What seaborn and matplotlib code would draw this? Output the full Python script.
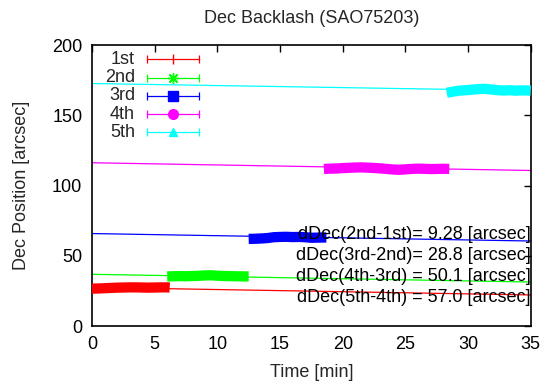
import numpy as np
import pandas as pd
import matplotlib
matplotlib.use("Agg")
import matplotlib.pyplot as plt
import seaborn as sns

# ---------------- data ----------------
series_names = ["1st", "2nd", "3rd", "4th", "5th"]
series_colors = ["#ff0000", "#00ff00", "#0000ff", "#ff00ff", "#00ffff"]

t_1st = [0.0, 0.5, 1.0, 1.5, 2.0, 2.5, 3.0, 3.5, 4.0, 4.5, 5.0, 5.5, 6.0, 6.2]
dec_1st = [26.6, 26.7, 26.9, 27.1, 27.3, 27.4, 27.5, 27.5, 27.4, 27.3, 27.4, 27.5, 27.5, 27.4]

t_2nd = [6.0, 6.5, 7.0, 7.5, 8.0, 8.5, 9.0, 9.5, 10.0, 10.5, 11.0, 11.5, 12.0, 12.5]
dec_2nd = [35.3, 35.4, 35.5, 35.4, 35.6, 35.7, 36.0, 36.1, 35.8, 35.6, 35.5, 35.4, 35.3, 35.3]

t_3rd = [12.5, 13.0, 13.5, 14.0, 14.5, 15.0, 15.5, 16.0, 16.5, 17.0, 17.5, 18.0, 18.5, 18.7]
dec_3rd = [62.0, 62.1, 62.3, 62.6, 63.2, 63.4, 63.5, 63.3, 63.4, 63.2, 62.8, 62.9, 63.0, 63.0]

t_4th = [18.5, 19.0, 19.5, 20.0, 20.5, 21.0, 21.5, 22.0, 22.5, 23.0, 23.5, 24.0, 24.5,
         25.0, 25.5, 26.0, 26.5, 27.0, 27.5, 28.0, 28.5]
dec_4th = [111.8, 112.0, 112.1, 112.4, 112.6, 112.8, 112.9, 112.7, 112.5, 112.2, 111.8,
           111.4, 111.2, 111.5, 111.8, 112.0, 111.9, 111.7, 111.8, 111.9, 111.8]

t_5th = [28.3, 28.8, 29.3, 29.8, 30.3, 30.8, 31.3, 31.8, 32.3, 32.8, 33.3, 33.8, 34.3, 34.8, 35.0]
dec_5th = [166.0, 166.8, 167.5, 167.8, 168.2, 168.6, 168.8, 168.4, 167.9, 167.6, 167.8,
           167.5, 167.7, 167.6, 167.5]

# linear fits (value at t=0 and t=35)
fit_t = [0.0, 35.0]
fit_start = [27.5, 36.8, 65.8, 116.2, 172.6]
fit_end = [22.1, 31.3, 60.5, 110.7, 167.5]

annotations = ["dDec(2nd-1st)= 9.28 [arcsec]",
               "dDec(3rd-2nd)= 28.8 [arcsec]",
               "dDec(4th-3rd) = 50.1 [arcsec]",
               "dDec(5th-4th) = 57.0 [arcsec]"]
annotation_y = [65, 50, 35, 20]

x_ticks = [0, 5, 10, 15, 20, 25, 30, 35]
y_ticks = [0, 50, 100, 150, 200]

# ---------------- style ----------------
sns.set_theme(style="white")
plt.rcParams["font.family"] = ["Liberation Sans", "DejaVu Sans"]
FS = 13

fig = plt.figure(figsize=(5.46, 3.87), dpi=100)
ax = fig.add_axes([0.1685, 0.1576, 0.8035, 0.7261])

times = [t_1st, t_2nd, t_3rd, t_4th, t_5th]
decs = [dec_1st, dec_2nd, dec_3rd, dec_4th, dec_5th]

# fit lines
for i in range(5):
    df = pd.DataFrame({"t": fit_t, "d": [fit_start[i], fit_end[i]]})
    sns.lineplot(data=df, x="t", y="d", ax=ax, color=series_colors[i], lw=0.9,
                 sort=False, estimator=None, legend=False, zorder=2)

# data bands
for i in range(5):
    df = pd.DataFrame({"t": times[i], "d": decs[i]})
    sns.lineplot(data=df, x="t", y="d", ax=ax, color=series_colors[i], lw=7.4,
                 sort=False, estimator=None, legend=False, zorder=3,
                 solid_capstyle="butt")

# annotations
for txt, yy in zip(annotations, annotation_y):
    ax.text(35, yy, txt, ha="right", va="center", fontsize=FS, color="black", zorder=5)

# manual gnuplot-like legend
markers = ["|", (8, 2, 0), "s", "o", "^"]
msizes = [7, 8, 7, 7, 6]
leg_y = [0.949, 0.884, 0.819, 0.754, 0.690]
x0, x1, xm = 0.1246, 0.2438, 0.184
for i in range(5):
    c = series_colors[i]
    ax.text(0.098, leg_y[i], series_names[i], transform=ax.transAxes,
            ha="right", va="center", fontsize=FS, zorder=6)
    ax.plot([x0, x1], [leg_y[i], leg_y[i]], transform=ax.transAxes, color=c,
            lw=0.9, zorder=6, clip_on=False)
    for xc in (x0, x1):
        ax.plot([xc], [leg_y[i]], transform=ax.transAxes, marker="|", ms=6,
                mew=0.9, color=c, zorder=6, clip_on=False)
    ax.plot([xm], [leg_y[i]], transform=ax.transAxes, marker=markers[i],
            ms=msizes[i], mew=1.0, color=c, zorder=7, clip_on=False)

# axes
ax.set_xlim(0, 35)
ax.set_ylim(0, 200)
ax.set_xticks(x_ticks)
ax.set_yticks(y_ticks)
ax.tick_params(direction="in", length=5, width=1.0, top=True, right=True,
               labelsize=FS, colors="black")
ax.tick_params(axis="x", pad=7)
ax.tick_params(axis="y", pad=7)
for s in ax.spines.values():
    s.set_color("black")
    s.set_linewidth(1.2)
ax.set_xlabel("Time [min]", fontsize=FS, labelpad=8)
ax.set_ylabel("Dec Position [arcsec]", fontsize=FS, labelpad=16)
ax.set_title("Dec Backlash (SAO75203)", fontsize=FS, pad=16)
ax.grid(False)

fig.savefig("out.png", dpi=100)
